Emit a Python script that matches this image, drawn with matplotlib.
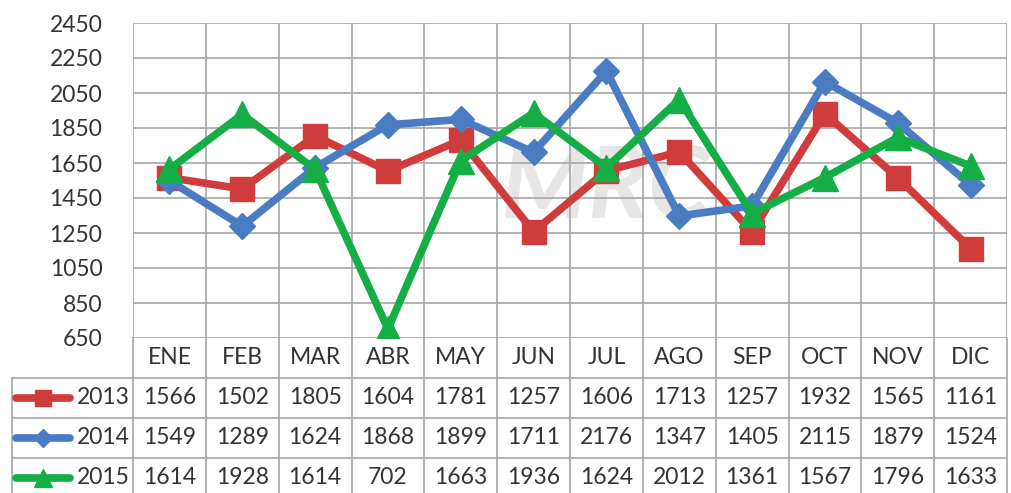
import matplotlib
matplotlib.use("Agg")
import matplotlib.pyplot as plt
from matplotlib.lines import Line2D

months = ["ENE", "FEB", "MAR", "ABR", "MAY", "JUN", "JUL", "AGO", "SEP", "OCT", "NOV", "DIC"]
years = ["2013", "2014", "2015"]
v2013 = [1566, 1502, 1805, 1604, 1781, 1257, 1606, 1713, 1257, 1932, 1565, 1161]
v2014 = [1549, 1289, 1624, 1868, 1899, 1711, 2176, 1347, 1405, 2115, 1879, 1524]
v2015 = [1614, 1928, 1614, 702, 1663, 1936, 1624, 2012, 1361, 1567, 1796, 1633]
yticks = [650, 850, 1050, 1250, 1450, 1650, 1850, 2050, 2250, 2450]

series = [v2013, v2014, v2015]
colors = ["#D03B3B", "#4A7CC4", "#14AE45"]
markers = ["s", "D", "^"]
msizes = [17, 13, 19]

W, H = 1011, 493
plt.rcParams['font.family'] = ['Lato', 'DejaVu Sans']
fig = plt.figure(figsize=(W / 100, H / 100), dpi=100)
grid_c = "#A6A6A6"
txt_c = "#333333"
fs = 16.5

# main plot
x0, x1 = 133, 1007
ytop, ybot = 23, 338
ax = fig.add_axes([x0 / W, (H - ybot) / H, (x1 - x0) / W, (ybot - ytop) / H])
n = len(months)
ax.set_xlim(0, n)
ax.set_ylim(yticks[0], yticks[-1])
ax.set_yticks(yticks)
ax.set_yticklabels([str(t) for t in yticks], fontsize=fs, color=txt_c)
ax.tick_params(axis='y', length=0, pad=22)
ax.set_xticks(range(n + 1))
ax.tick_params(axis='x', length=0, labelbottom=False)
ax.grid(True, color=grid_c, linewidth=1.2)
ax.set_axisbelow(True)
for s in ax.spines.values():
    s.set_visible(False)
ax.text(0.54, 0.47, "MRC", transform=ax.transAxes, fontsize=72, fontstyle='italic',
        fontweight='bold', color="#E6E6E6", ha='center', va='center', zorder=0.5)
xs = [i + 0.5 for i in range(n)]
for vals, c, m, ms in zip(series, colors, markers, msizes):
    ax.plot(xs, vals, color=c, linewidth=5.5, marker=m, markersize=ms, zorder=3,
            solid_joinstyle='miter')

# table
tx0 = 12
row_h = 40
ax2 = fig.add_axes([tx0 / W, (H - (ybot + 4 * row_h)) / H, (x1 - tx0) / W, 4 * row_h / H])
lab_w = (x0 - tx0) / ((x1 - x0) / n)
ax2.set_xlim(-lab_w, n)
ax2.set_ylim(4, 0)
ax2.axis('off')
for i in range(n + 1):
    ax2.plot([i, i], [0, 4], color=grid_c, lw=1.2, clip_on=False)
ax2.plot([-lab_w, -lab_w], [1, 4], color=grid_c, lw=1.2, clip_on=False)
for r in range(1, 4):
    ax2.plot([-lab_w, n], [r, r], color=grid_c, lw=1.2, clip_on=False)
for i, mname in enumerate(months):
    ax2.text(i + 0.5, 0.5, mname, ha='center', va='center', fontsize=fs, color=txt_c)
for r, (yr, vals, c, m, ms) in enumerate(zip(years, series, colors, markers, msizes)):
    yy = r + 1.5
    ax2.add_line(Line2D([-lab_w + 0.05, -lab_w + 0.8], [yy, yy], color=c, lw=5.5,
                        solid_capstyle='round'))
    ax2.plot([-lab_w + 0.42], [yy], marker=m, color=c, markersize=ms * 0.7)
    ax2.text(-0.04, yy, yr, ha='right', va='center', fontsize=fs, color=txt_c)
    for i, v in enumerate(vals):
        ax2.text(i + 0.5, yy, str(v), ha='center', va='center', fontsize=fs, color=txt_c)

fig.savefig("out.png", dpi=100, facecolor="white")
